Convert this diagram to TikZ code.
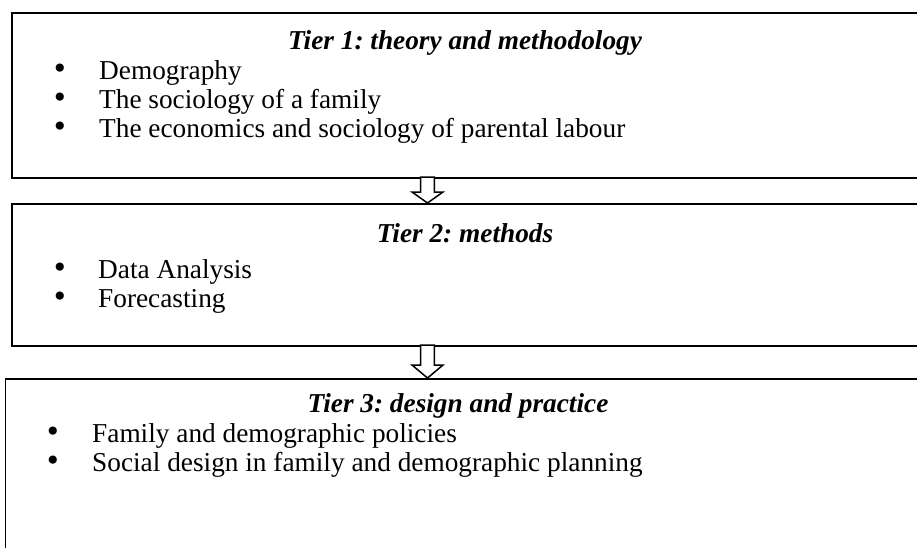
\documentclass[tikz,border=0pt]{standalone}
\usepackage{fontspec}
\setmainfont{Liberation Serif}
\newfontfamily\bulletfont{DejaVu Sans}
\frenchspacing
\begin{document}
\begin{tikzpicture}[x=1pt,y=-1pt,
  tierbox/.style={draw=black,line width=1.6pt,rectangle,inner sep=0pt,anchor=north west},
  tiertitle/.style={anchor=base,inner sep=0pt,font=\fontsize{27.3}{31}\selectfont\bfseries\itshape},
  item/.style={anchor=base west,inner sep=0pt,font=\fontsize{27.3}{31}\selectfont},
  bul/.style={anchor=center,inner sep=0pt,font=\bulletfont\fontsize{28}{29}\selectfont},
  blockarrow/.style={draw=black,fill=white,line width=1.5pt,line join=miter}]
\useasboundingbox (0,0) rectangle (917,547);
% boxes
\node[tierbox,minimum width=930pt,minimum height=165pt] (b1) at (11,12) {};
\node[tierbox,minimum width=930pt,minimum height=142pt] (b2) at (11,203) {};
\node[tierbox,minimum width=940pt,minimum height=200pt] (b3) at (4.5,378) {};
% tier 1
\node[tiertitle] (t1) at (465,49) {Tier 1: theory and methodology};
\node[bul] (u11) at (60,71) {•};
\node[item] (i11) at (99,79) {Demography};
\node[bul] (u12) at (60,100) {•};
\node[item] (i12) at (99,108) {The sociology of a family};
\node[bul] (u13) at (60,129) {•};
\node[item] (i13) at (99,137) {The economics and sociology of parental labour};
% tier 2
\node[tiertitle] (t2) at (465,242) {Tier 2: methods};
\node[bul] (u21) at (60,270) {•};
\node[item] (i21) at (98,278) {Data Analysis};
\node[bul] (u22) at (60,299) {•};
\node[item] (i22) at (98,307) {Forecasting};
% tier 3
\node[tiertitle] (t3) at (458,412) {Tier 3: design and practice};
\node[bul] (u31) at (53,434) {•};
\node[item] (i31) at (92,442) {Family and demographic policies};
\node[bul] (u32) at (53,463) {•};
\node[item] (i32) at (92,471) {Social design in family and demographic planning};
% block arrows
\coordinate (a1) at (427.5,177);
\coordinate (a2) at (427.5,345);
\draw[blockarrow] (a1) ++(-6.8,0) -- ++(0,15) -- ++(-8.7,0) -- (427.5,203) -- (443,192) -- ++(-8.7,0) -- ++(0,-15) -- cycle;
\draw[blockarrow] (a2) ++(-6.8,0) -- ++(0,20) -- ++(-8.7,0) -- (427.5,378) -- (443,365) -- ++(-8.7,0) -- ++(0,-20) -- cycle;
\end{tikzpicture}
\end{document}
